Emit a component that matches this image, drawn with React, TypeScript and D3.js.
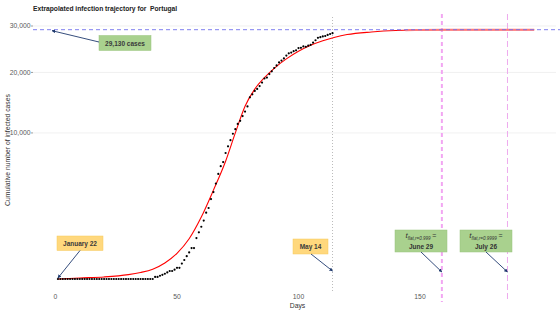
import React from "react";
import * as d3 from "d3";

const W = 560;
const H = 315;

// cumulative confirmed cases, one value per day, day 1 = January 22
const cumulativeCases = [
  0, 0, 0, 0, 0, 0, 0, 0, 0, 0, 0, 0, 0, 0, 0, 0, 0, 0, 0, 0,
  0, 0, 0, 0, 0, 0, 0, 0, 0, 0, 0, 0, 0, 0, 0, 0, 0, 0, 0, 0,
  2, 2, 5, 8, 13, 20, 30, 30, 41, 59, 59, 112, 169, 245, 331, 448, 448, 785, 1020, 1280,
  1600, 2060, 2362, 2995, 3544, 4268, 5170, 5962, 6408, 7443,
  8251, 9034, 9886, 10524, 11278, 11730, 12442, 13141, 13956, 15472,
  15987, 16585, 16934, 17448, 18091, 18841, 19022, 19685, 20206, 20863,
  21379, 21982, 22353, 22797, 23392, 23864, 24027, 24322, 24505, 24987,
  25045, 25351, 25282, 25524, 25702, 26182, 26715, 27268, 27406, 27581,
  27679, 27913, 28132, 28319,
];

// fitted trajectory
const fitDays = [1, 10, 20, 30, 35, 40, 45, 50, 55, 60, 65, 70, 74, 78, 82, 86, 90, 95, 100, 105, 110, 115, 120, 130, 140, 150, 160, 175, 197];
const fitCases = [0, 0.5, 2, 9, 20, 45, 120, 310, 760, 1800, 3700, 6500, 10000, 14000, 16900, 19000, 20800, 22700, 24300, 25600, 26600, 27400, 28000, 28600, 28950, 29060, 29110, 29128, 29130];

const xTicks = [0, 50, 100, 150];
const yTicks = [10000, 20000, 30000];

const plateauCases = 29130;
const lastDataDay = 114;
const flatDay999 = 159;
const flatDay9999 = 186;
const extrapolationStart = 144;

const navy = "#1f3a6e";
const green = "#a9d18e";
const yellow = "#ffd87d";

export default function App() {
  const x = d3.scaleLinear().domain([0, 150]).range([55.5, 420]);
  const y = d3.scaleSqrt().domain([0, 30000]).range([279, 26]);

  const panelLeft = 33;
  const panelRight = 556;
  const panelTop = 14;
  const panelBottom = 302;

  const fitPts: [number, number][] = fitDays.map((d, i) => [d, fitCases[i]]);
  const line = d3
    .line<[number, number]>()
    .x((d) => x(d[0]))
    .y((d) => y(d[1]))
    .curve(d3.curveMonotoneX);
  const fitPath = line(fitPts) || "";

  const font = "'Liberation Sans', Arial, sans-serif";
  const tickColor = "#5a5a5a";

  const arrow = (x1: number, y1: number, x2: number, y2: number) => (
    <line x1={x1} y1={y1} x2={x2} y2={y2} stroke={navy} strokeWidth={0.9} markerEnd="url(#arrowHead)" />
  );

  const flatBox = (cx: number, sub: string, date: string, tipX: number) => (
    <g>
      <rect x={cx - 26} y={230} width={52} height={22} fill={green} stroke="#98c47c" strokeWidth={0.5} />
      <text x={cx} y={238} textAnchor="middle" fontFamily={font} fill="#333">
        <tspan fontStyle="italic" fontSize={8}>t</tspan>
        <tspan fontStyle="italic" fontSize={4.5} dy={1.5}>{sub}</tspan>
        <tspan fontSize={7} dy={-1.5}> =</tspan>
      </text>
      <text x={cx} y={249} textAnchor="middle" fontFamily={font} fontSize={6.5} fontWeight="bold" fill="#333">
        {date}
      </text>
      {arrow(cx, 252, tipX, 272)}
    </g>
  );

  return (
    <svg width={W} height={H} style={{ position: "absolute", left: 0, top: 0, background: "#fff" }}>
      <defs>
        <marker id="arrowHead" viewBox="0 0 10 10" refX="9" refY="5" markerWidth="4" markerHeight="4" orient="auto">
          <path d="M0,0 L10,5 L0,10 z" fill={navy} />
        </marker>
        <clipPath id="extrapClip">
          <rect x={x(extrapolationStart)} y={0} width={W} height={H} />
        </clipPath>
      </defs>

      {/* title */}
      <text x={33} y={11} fontFamily={font} fontSize={6.7} fontWeight="bold" fill="#222" style={{ whiteSpace: "pre" }}>
        {"Extrapolated infection trajectory for  Portugal"}
      </text>

      {/* grid + y axis */}
      {yTicks.map((t) => (
        <g key={t}>
          <line x1={panelLeft} x2={panelRight} y1={y(t)} y2={y(t)} stroke="#e6e6e6" strokeWidth={0.6} />
          <line x1={panelLeft - 2} x2={panelLeft} y1={y(t)} y2={y(t)} stroke={tickColor} strokeWidth={0.6} />
          <text x={panelLeft - 2.5} y={y(t) + 2.4} textAnchor="end" fontFamily={font} fontSize={6.8} fill={tickColor}>
            {d3.format(",")(t)}
          </text>
        </g>
      ))}

      {/* x axis labels */}
      {xTicks.map((t) => (
        <text key={t} x={x(t)} y={299} textAnchor="middle" fontFamily={font} fontSize={6.8} fill={tickColor}>
          {t}
        </text>
      ))}
      <text x={x(100) - 1} y={308} textAnchor="middle" fontFamily={font} fontSize={6.8} fill="#333">
        Days
      </text>
      <text
        transform={`translate(10,${150}) rotate(-90)`}
        textAnchor="middle"
        fontFamily={font}
        fontSize={6.8}
        fill="#333"
      >
        Cumulative number of infected cases
      </text>

      {/* vertical markers */}
      <line x1={x(lastDataDay)} x2={x(lastDataDay)} y1={17} y2={292} stroke="#aaa" strokeWidth={0.8} strokeDasharray="1,2" />
      <line x1={x(flatDay999)} x2={x(flatDay999)} y1={panelTop} y2={panelBottom} stroke="#f2a6f2" strokeWidth={2} strokeDasharray="4,3" />
      <line x1={x(flatDay9999)} x2={x(flatDay9999)} y1={panelTop} y2={panelBottom} stroke="#eeaaee" strokeWidth={1} strokeDasharray="6,3" />

      {/* fitted curve */}
      <path d={fitPath} fill="none" stroke="#ff0000" strokeWidth={1.1} />
      <path d={fitPath} fill="none" stroke="#ff7a7a" strokeWidth={2} clipPath="url(#extrapClip)" />

      {/* observed points */}
      {cumulativeCases.map((v, i) => (
        <circle key={i} cx={x(i + 1)} cy={y(v)} r={1.1} fill="#000" />
      ))}

      {/* plateau line */}
      <line x1={panelLeft} x2={W} y1={y(plateauCases)} y2={y(plateauCases)} stroke="#7070ee" strokeWidth={0.9} strokeDasharray="4,3" />

      {/* annotations */}
      <rect x={99} y={35.5} width={52} height={15} fill={green} stroke="#98c47c" strokeWidth={0.5} />
      <text x={125} y={45.5} textAnchor="middle" fontFamily={font} fontSize={6.5} fontWeight="bold" fill="#3a3a3a">
        29,130 cases
      </text>
      {arrow(99, 42, 52, y(plateauCases) + 1)}

      <rect x={57} y={236} width={46} height={14.5} fill={yellow} stroke="#f5c95e" strokeWidth={0.5} />
      <text x={80} y={245.8} textAnchor="middle" fontFamily={font} fontSize={6.5} fontWeight="bold" fill="#3a3a3a">
        January 22
      </text>
      {arrow(80, 250.5, x(1), y(0) - 1)}

      <rect x={293} y={239} width={35} height={15} fill={yellow} stroke="#f5c95e" strokeWidth={0.5} />
      <text x={310.5} y={249} textAnchor="middle" fontFamily={font} fontSize={6.5} fontWeight="bold" fill="#3a3a3a">
        May 14
      </text>
      {arrow(311, 254, x(lastDataDay), 271)}

      {flatBox(421, "flat,r=0.999", "June 29", x(flatDay999))}
      {flatBox(486, "flat,r=0.9999", "July 26", x(flatDay9999))}
    </svg>
  );
}
